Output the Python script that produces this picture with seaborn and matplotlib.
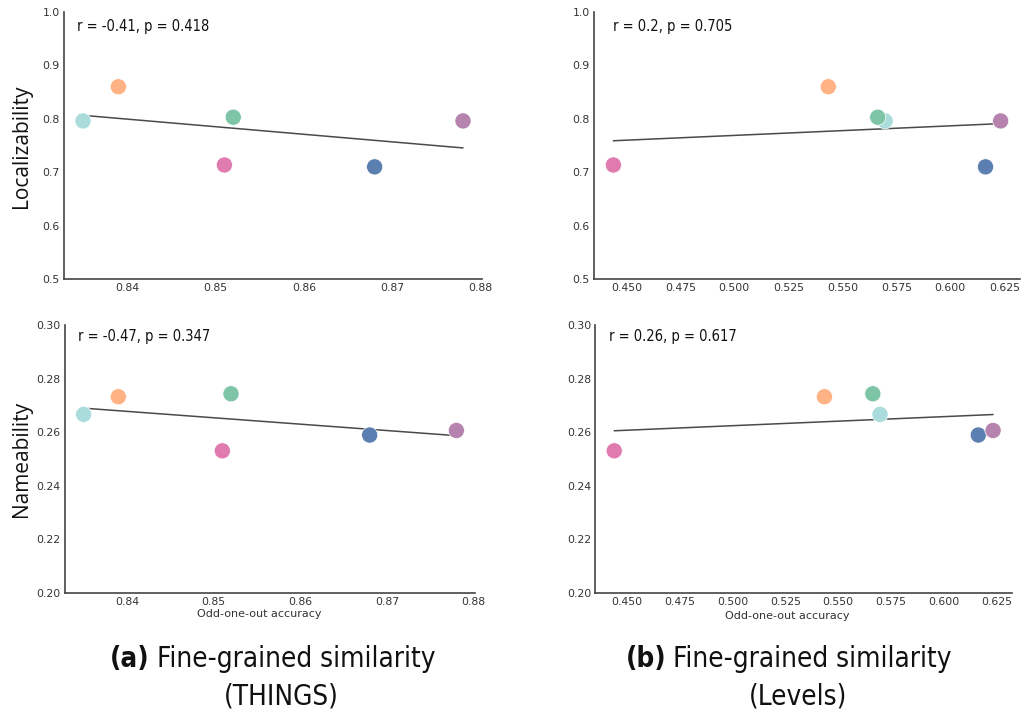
import numpy as np
import pandas as pd
import matplotlib
matplotlib.use("Agg")
import matplotlib.pyplot as plt
import seaborn as sns
from matplotlib import font_manager as fm

# ---- data ----
models = ["m1", "m2", "m3", "m4", "m5", "m6"]
colors = ["#a9dcdb", "#ffb283", "#7ec4a6", "#e07bb0", "#5a7fb0", "#b583ad"]

things_acc = [0.835, 0.839, 0.852, 0.851, 0.868, 0.878]
levels_acc = [0.5698, 0.5435, 0.5664, 0.4440, 0.6163, 0.6233]

localizability = [0.796, 0.860, 0.803, 0.7135, 0.710, 0.796]
nameability = [0.2666, 0.2732, 0.2743, 0.2530, 0.2589, 0.2606]

stat_texts = [["r = -0.41, p = 0.418", "r = 0.2, p = 0.705"],
              ["r = -0.47, p = 0.347", "r = 0.26, p = 0.617"]]
ylabels = ["Localizability", "Nameability"]
ylims = [(0.5, 1.0), (0.20, 0.30)]
yticks = [[0.5, 0.6, 0.7, 0.8, 0.9, 1.0], [0.20, 0.22, 0.24, 0.26, 0.28, 0.30]]
xticks = [[0.84, 0.85, 0.86, 0.87, 0.88],
          [0.450, 0.475, 0.500, 0.525, 0.550, 0.575, 0.600, 0.625]]
xlabel = "Odd-one-out accuracy"
captions = [("(a)", "Fine-grained similarity", "(THINGS)"),
            ("(b)", "Fine-grained similarity", "(Levels)")]

sns.set_theme(style="white")

# find a condensed face if one is installed
cond_path = None
for f in fm.fontManager.ttflist:
    if f.name.startswith("DejaVu Sans") and "Condensed" in f.fname and "Bold" not in f.fname \
            and "Oblique" not in f.fname:
        cond_path = f.fname
        break
cond_bold_path = None
for f in fm.fontManager.ttflist:
    if f.name.startswith("DejaVu Sans") and "Condensed-Bold" in f.fname and "Oblique" not in f.fname:
        cond_bold_path = f.fname
        break

def fp(size, bold=False):
    path = cond_bold_path if bold else cond_path
    if path:
        return fm.FontProperties(fname=path, size=size)
    return fm.FontProperties(family="Roboto", size=size, weight="bold" if bold else "normal")

W, H = 1022, 719
fig = plt.figure(figsize=(W / 100, H / 100), dpi=100)

def px_axes(l, t, r, b):
    return fig.add_axes([l / W, 1 - b / H, (r - l) / W, (b - t) / H])

axes_px = [[(64, 12, 482, 279), (594, 12, 1020, 279)],
           [(65, 325, 475, 592.7), (595.3, 325, 1012, 592.7)]]
text_pos = [[(0.031, 0.947), (0.044, 0.947)],
            [(0.031, 0.956), (0.034, 0.956)]]

xs_all = [things_acc, levels_acc]
ys_all = [localizability, nameability]

for row in range(2):
    for col in range(2):
        ax = px_axes(*axes_px[row][col])
        df = pd.DataFrame({"x": xs_all[col], "y": ys_all[row], "model": models})
        sns.regplot(data=df, x="x", y="y", ax=ax, scatter=False, ci=None,
                    line_kws=dict(color="#4a4a4a", lw=1.1))
        sns.scatterplot(data=df, x="x", y="y", hue="model", palette=colors,
                        s=135, edgecolor="white", linewidth=0.5, ax=ax,
                        legend=False, zorder=3)
        ax.set_ylim(*ylims[row])
        ax.set_yticks(yticks[row])
        ax.set_xticks(xticks[col])
        if col == 0:
            ax.set_xticklabels([f"{v:.2f}" for v in xticks[col]])
        else:
            ax.set_xticklabels([f"{v:.3f}" for v in xticks[col]])
        if row == 0:
            ax.set_yticklabels([f"{v:.1f}" for v in yticks[row]])
        else:
            ax.set_yticklabels([f"{v:.2f}" for v in yticks[row]])
        ax.set_xlabel("")
        ax.set_ylabel("")
        ax.tick_params(axis="both", labelsize=7.8, colors="#333333", length=0, pad=3)
        for s in ["top", "right"]:
            ax.spines[s].set_visible(False)
        for s in ["left", "bottom"]:
            ax.spines[s].set_color("#444444")
            ax.spines[s].set_linewidth(1.2)
        tx, ty = text_pos[row][col]
        ax.text(tx, ty, stat_texts[row][col], transform=ax.transAxes,
                ha="left", va="center", fontproperties=fp(10.5), color="#111111")

# y labels
for lab, yc in zip(ylabels, [146, 459]):
    fig.text(22 / W, 1 - yc / H, lab, rotation=90, ha="center", va="center",
             fontsize=15, family=["Open Sans", "DejaVu Sans"], color="#111111")

# x labels
fig.text(259 / W, 1 - 614 / H, xlabel, ha="center", va="center", fontsize=8, color="#333333")
fig.text(787 / W, 1 - 616 / H, xlabel, ha="center", va="center", fontsize=8, color="#333333")

# captions
cap_x = [(152, 281), (668, 798)]
for (split, center), (lab, line1, line2) in zip(cap_x, captions):
    fig.text((split - 2) / W, 1 - 659 / H, lab, ha="right", va="center",
             fontproperties=fp(20, bold=True), color="#111111")
    fig.text((split + 5) / W, 1 - 659 / H, line1, ha="left", va="center",
             fontproperties=fp(20), color="#111111")
    fig.text(center / W, 1 - 697 / H, line2, ha="center", va="center",
             fontproperties=fp(20), color="#111111")

fig.savefig("out.png", dpi=100, facecolor="white")
